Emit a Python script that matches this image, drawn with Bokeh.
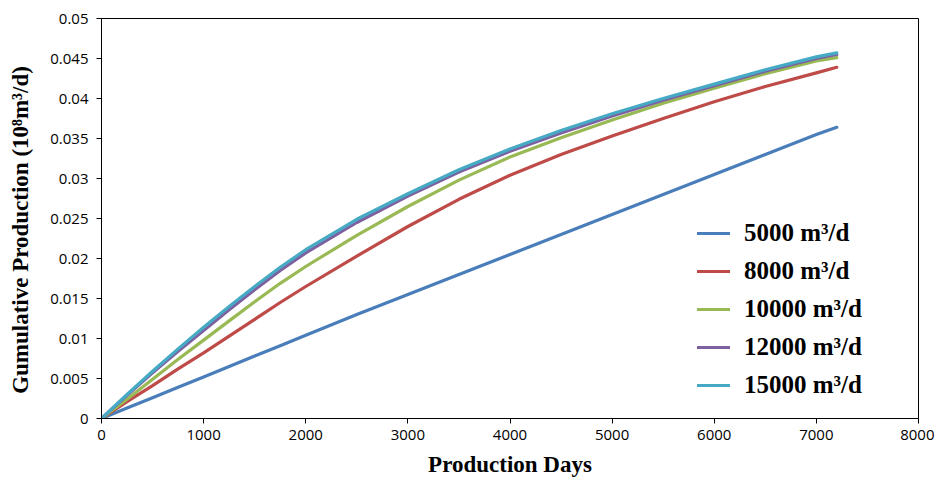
from bokeh.plotting import figure
from bokeh.models import Range1d, FixedTicker, Legend, LegendItem
from bokeh.embed import file_html
from bokeh.resources import INLINE

days = [0, 250, 500, 750, 1000, 1250, 1500, 1750, 2000, 2500, 3000, 3500, 4000, 4500, 5000, 5500, 6000, 6500, 7000, 7200]
q5000 = [0, 0.0013, 0.0026, 0.0039, 0.0052, 0.0065, 0.0078, 0.0091, 0.0104, 0.0130, 0.0155, 0.0180, 0.0205, 0.0230, 0.0255, 0.0280, 0.0305, 0.0330, 0.0355, 0.0364]
q8000 = [0, 0.0021, 0.0041, 0.0062, 0.0082, 0.0103, 0.0124, 0.0145, 0.0165, 0.0203, 0.0240, 0.0274, 0.0304, 0.0330, 0.0353, 0.0375, 0.0396, 0.0415, 0.0432, 0.0439]
q10000 = [0, 0.0024, 0.0049, 0.0074, 0.0098, 0.0122, 0.0146, 0.0169, 0.0190, 0.0229, 0.0265, 0.0298, 0.0327, 0.0351, 0.0373, 0.0394, 0.0413, 0.0431, 0.0447, 0.0451]
q12000 = [0, 0.0029, 0.0057, 0.0084, 0.0110, 0.0136, 0.0161, 0.0185, 0.0207, 0.0245, 0.0278, 0.0308, 0.0334, 0.0357, 0.0378, 0.0398, 0.0416, 0.0434, 0.0450, 0.0455]
q15000 = [0, 0.0030, 0.0059, 0.0087, 0.0114, 0.0140, 0.0165, 0.0189, 0.0211, 0.0249, 0.0281, 0.0311, 0.0337, 0.0360, 0.0381, 0.0400, 0.0418, 0.0436, 0.0452, 0.0457]

series_names = ["5000 m³/d", "8000 m³/d", "10000 m³/d", "12000 m³/d", "15000 m³/d"]
series_vals = [q5000, q8000, q10000, q12000, q15000]
colors = ["#4a7ebb", "#be4b48", "#98b954", "#7d60a0", "#46aac5"]

x_ticks = [0, 1000, 2000, 3000, 4000, 5000, 6000, 7000, 8000]
y_ticks = [0, 0.005, 0.01, 0.015, 0.02, 0.025, 0.03, 0.035, 0.04, 0.045, 0.05]
y_tick_labels = ["0", "0.005", "0.01", "0.015", "0.02", "0.025", "0.03", "0.035", "0.04", "0.045", "0.05"]

p = figure(width=934, height=480, output_backend="svg", toolbar_location=None,
           x_range=Range1d(0, 8000), y_range=Range1d(0, 0.05))
p.min_border_left = 101
p.min_border_right = 16
p.min_border_top = 18
p.min_border_bottom = 62
p.xgrid.visible = False
p.ygrid.visible = False
p.outline_line_color = "black"
p.outline_line_width = 1
p.background_fill_color = "white"
p.border_fill_color = "white"

renderers = []
for vals, c in zip(series_vals, colors):
    r = p.line(days, vals, line_color=c, line_width=3.2, line_join="round", line_cap="round")
    renderers.append(r)

for ax in (p.xaxis[0], p.yaxis[0]):
    ax.axis_line_color = "black"
    ax.axis_line_width = 1
    ax.major_tick_line_color = "black"
    ax.major_tick_out = 5
    ax.major_tick_in = 0
    ax.minor_tick_line_color = None
    ax.major_label_text_font = "Open Sans"
    ax.major_label_text_font_size = "15px"
    ax.major_label_text_color = "black"
    ax.axis_label_text_font = "Liberation Serif"
    ax.axis_label_text_font_style = "bold"
    ax.axis_label_text_font_size = "23px"
    ax.axis_label_text_color = "black"

p.xaxis[0].ticker = FixedTicker(ticks=x_ticks)
p.xaxis[0].major_label_overrides = {t: str(t) for t in x_ticks}
p.xaxis[0].major_label_standoff = 6
p.xaxis[0].axis_label = "Production Days"
p.xaxis[0].axis_label_standoff = 9

p.yaxis[0].ticker = FixedTicker(ticks=y_ticks)
p.yaxis[0].major_label_overrides = {t: l for t, l in zip(y_ticks, y_tick_labels)}
p.yaxis[0].major_label_standoff = 8
p.yaxis[0].axis_label = "Gumulative   Production   (10⁸m³/d)"
p.yaxis[0].axis_label_standoff = 14

legend = Legend(items=[LegendItem(label=n, renderers=[r]) for n, r in zip(series_names, renderers)],
                location=(596, 14), border_line_color=None, background_fill_alpha=0,
                padding=0, margin=0, spacing=0, label_height=38, glyph_height=38,
                glyph_width=33, label_standoff=14,
                label_text_font="Liberation Serif", label_text_font_style="bold",
                label_text_font_size="25px", label_text_color="black")
p.add_layout(legend)

open("out.html", "w").write(file_html(p, INLINE))
